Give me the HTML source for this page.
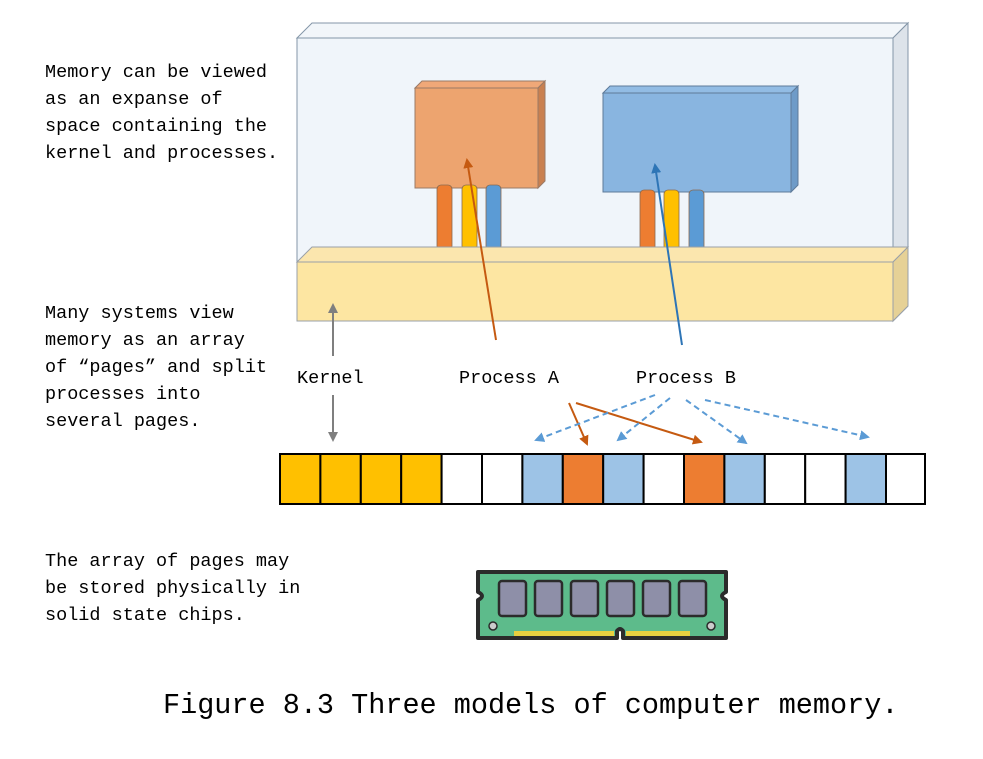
<!DOCTYPE html>
<html><head><meta charset="utf-8"><style>
body{margin:0;background:#fff;width:983px;height:754px;overflow:hidden}
svg text{font-family:"Liberation Mono",monospace;fill:#000}
</style></head><body>
<svg width="983" height="754" viewBox="0 0 983 754" xmlns="http://www.w3.org/2000/svg">
<defs>
<marker id="ao" markerWidth="10" markerHeight="10" refX="8" refY="5" orient="auto" markerUnits="userSpaceOnUse"><path d="M0,0 L10,5 L0,10 z" fill="#C55A11"/></marker>
<marker id="ab" markerWidth="10" markerHeight="10" refX="8" refY="5" orient="auto" markerUnits="userSpaceOnUse"><path d="M0,0 L10,5 L0,10 z" fill="#2E75B6"/></marker>
<marker id="al" markerWidth="10" markerHeight="10" refX="8" refY="5" orient="auto" markerUnits="userSpaceOnUse"><path d="M0,0 L10,5 L0,10 z" fill="#5B9BD5"/></marker>
<marker id="ag" markerWidth="10" markerHeight="10" refX="8" refY="5" orient="auto" markerUnits="userSpaceOnUse"><path d="M0,0 L10,5 L0,10 z" fill="#7F7F7F"/></marker>
</defs>
<!-- big box -->
<polygon points="297,38 312,23 908,23 893,38" fill="#F2F6FA" stroke="#8496A8" stroke-width="1"/>
<polygon points="893,38 908,23 908,306 893,321" fill="#DDE3EA" stroke="#8496A8" stroke-width="1"/>
<rect x="297" y="38" width="596" height="283" fill="#F0F5FA" stroke="#8496A8" stroke-width="1"/>
<!-- orange box -->
<polygon points="415,88 422,81 545,81 538,88" fill="#F0A878" stroke="#9A7A66"/>
<polygon points="538,88 545,81 545,181 538,188" fill="#C98050" stroke="#9A7A66"/>
<rect x="415" y="88" width="123" height="100" fill="#EDA46F" stroke="#9A7A66"/>
<!-- blue box -->
<polygon points="603,93 610,86 798,86 791,93" fill="#92BCE4" stroke="#5E7A99"/>
<polygon points="791,93 798,86 798,185 791,192" fill="#6E9BC8" stroke="#5E7A99"/>
<rect x="603" y="93" width="188" height="99" fill="#89B5E0" stroke="#5E7A99"/>
<!-- cylinders -->
<g stroke="#8a6a50" stroke-width="0.8">
<rect x="437" y="185" width="15" height="65" rx="4" fill="#ED7D31"/>
<rect x="462" y="185" width="15" height="65" rx="4" fill="#FFC000"/>
<rect x="486" y="185" width="15" height="65" rx="4" fill="#5B9BD5"/>
<rect x="640" y="190" width="15" height="66" rx="4" fill="#ED7D31"/>
<rect x="664" y="190" width="15" height="66" rx="4" fill="#FFC000"/>
<rect x="689" y="190" width="15" height="66" rx="4" fill="#5B9BD5"/>
</g>
<!-- kernel slab -->
<polygon points="297,262 312,247 908,247 893,262" fill="#FBE6AE" stroke="#9AA0A8"/>
<polygon points="893,262 908,247 908,306 893,321" fill="#E6D196" stroke="#9AA0A8"/>
<rect x="297" y="262" width="596" height="59" fill="#FDE6A2" stroke="#9AA0A8"/>
<!-- arrows into boxes -->
<line x1="496" y1="340" x2="467" y2="160" stroke="#C55A11" stroke-width="2" marker-end="url(#ao)"/>
<line x1="682" y1="345" x2="655" y2="165" stroke="#2E75B6" stroke-width="2" marker-end="url(#ab)"/>
<!-- kernel arrows -->
<line x1="333" y1="356" x2="333" y2="305" stroke="#7F7F7F" stroke-width="2" marker-end="url(#ag)"/>
<line x1="333" y1="395" x2="333" y2="440" stroke="#7F7F7F" stroke-width="2" marker-end="url(#ag)"/>
<!-- labels -->
<text x="297" y="383" font-size="18.5">Kernel</text>
<text x="459" y="383" font-size="18.5">Process A</text>
<text x="636" y="383" font-size="18.5">Process B</text>
<!-- process A arrows -->
<line x1="569" y1="403" x2="587" y2="444" stroke="#C55A11" stroke-width="2" marker-end="url(#ao)"/>
<line x1="576" y1="403" x2="701" y2="442" stroke="#C55A11" stroke-width="2" marker-end="url(#ao)"/>
<!-- process B dashed -->
<g stroke="#5B9BD5" stroke-width="2" stroke-dasharray="6,4" fill="none">
<line x1="655" y1="395" x2="536" y2="440" marker-end="url(#al)"/>
<line x1="670" y1="398" x2="618" y2="440" marker-end="url(#al)"/>
<line x1="686" y1="400" x2="746" y2="443" marker-end="url(#al)"/>
<line x1="705" y1="400" x2="868" y2="437" marker-end="url(#al)"/>
</g>
<!-- page array -->
<g stroke="#000" stroke-width="2">
<rect x="280" y="454" width="40.4" height="50" fill="#FFC000"/>
<rect x="320.4" y="454" width="40.4" height="50" fill="#FFC000"/>
<rect x="360.8" y="454" width="40.4" height="50" fill="#FFC000"/>
<rect x="401.2" y="454" width="40.4" height="50" fill="#FFC000"/>
<rect x="441.6" y="454" width="40.4" height="50" fill="#fff"/>
<rect x="482" y="454" width="40.4" height="50" fill="#fff"/>
<rect x="522.4" y="454" width="40.4" height="50" fill="#9DC3E6"/>
<rect x="562.8" y="454" width="40.4" height="50" fill="#ED7D31"/>
<rect x="603.2" y="454" width="40.4" height="50" fill="#9DC3E6"/>
<rect x="643.6" y="454" width="40.4" height="50" fill="#fff"/>
<rect x="684" y="454" width="40.4" height="50" fill="#ED7D31"/>
<rect x="724.4" y="454" width="40.4" height="50" fill="#9DC3E6"/>
<rect x="764.8" y="454" width="40.4" height="50" fill="#fff"/>
<rect x="805.2" y="454" width="40.4" height="50" fill="#fff"/>
<rect x="845.6" y="454" width="40.4" height="50" fill="#9DC3E6"/>
<rect x="886" y="454" width="39" height="50" fill="#fff"/>
</g>
<!-- RAM -->
<g>
<path d="M478,572 H726 V592 Q718,596 726,600 V638 H623 V631 Q620,627 617,631 V638 H478 V600 Q486,596 478,592 Z" fill="#5DBB8B" stroke="#2B2B2B" stroke-width="4" stroke-linejoin="round"/>
<g fill="#8E8FA8" stroke="#2B2B2B" stroke-width="2.5">
<rect x="499" y="581" width="27" height="35" rx="3"/>
<rect x="535" y="581" width="27" height="35" rx="3"/>
<rect x="571" y="581" width="27" height="35" rx="3"/>
<rect x="607" y="581" width="27" height="35" rx="3"/>
<rect x="643" y="581" width="27" height="35" rx="3"/>
<rect x="679" y="581" width="27" height="35" rx="3"/>
</g>
<circle cx="493" cy="626" r="4" fill="#ccc" stroke="#2B2B2B" stroke-width="1.5"/>
<circle cx="711" cy="626" r="4" fill="#ccc" stroke="#2B2B2B" stroke-width="1.5"/>
<g fill="#E8D040">
<rect x="514" y="631" width="100" height="5"/>
<rect x="626" y="631" width="64" height="5"/>
</g>
</g>
<!-- left text -->
<g font-size="18.5">
<text x="45" y="77">Memory can be viewed</text>
<text x="45" y="104">as an expanse of</text>
<text x="45" y="131">space containing the</text>
<text x="45" y="158">kernel and processes.</text>
<text x="45" y="318">Many systems view</text>
<text x="45" y="345">memory as an array</text>
<text x="45" y="372">of “pages” and split</text>
<text x="45" y="399">processes into</text>
<text x="45" y="426">several pages.</text>
<text x="45" y="566">The array of pages may</text>
<text x="45" y="593">be stored physically in</text>
<text x="45" y="620">solid state chips.</text>
</g>
<text x="163" y="713" font-size="28.5">Figure 8.3 Three models of computer memory.</text>
</svg>
</body></html>
